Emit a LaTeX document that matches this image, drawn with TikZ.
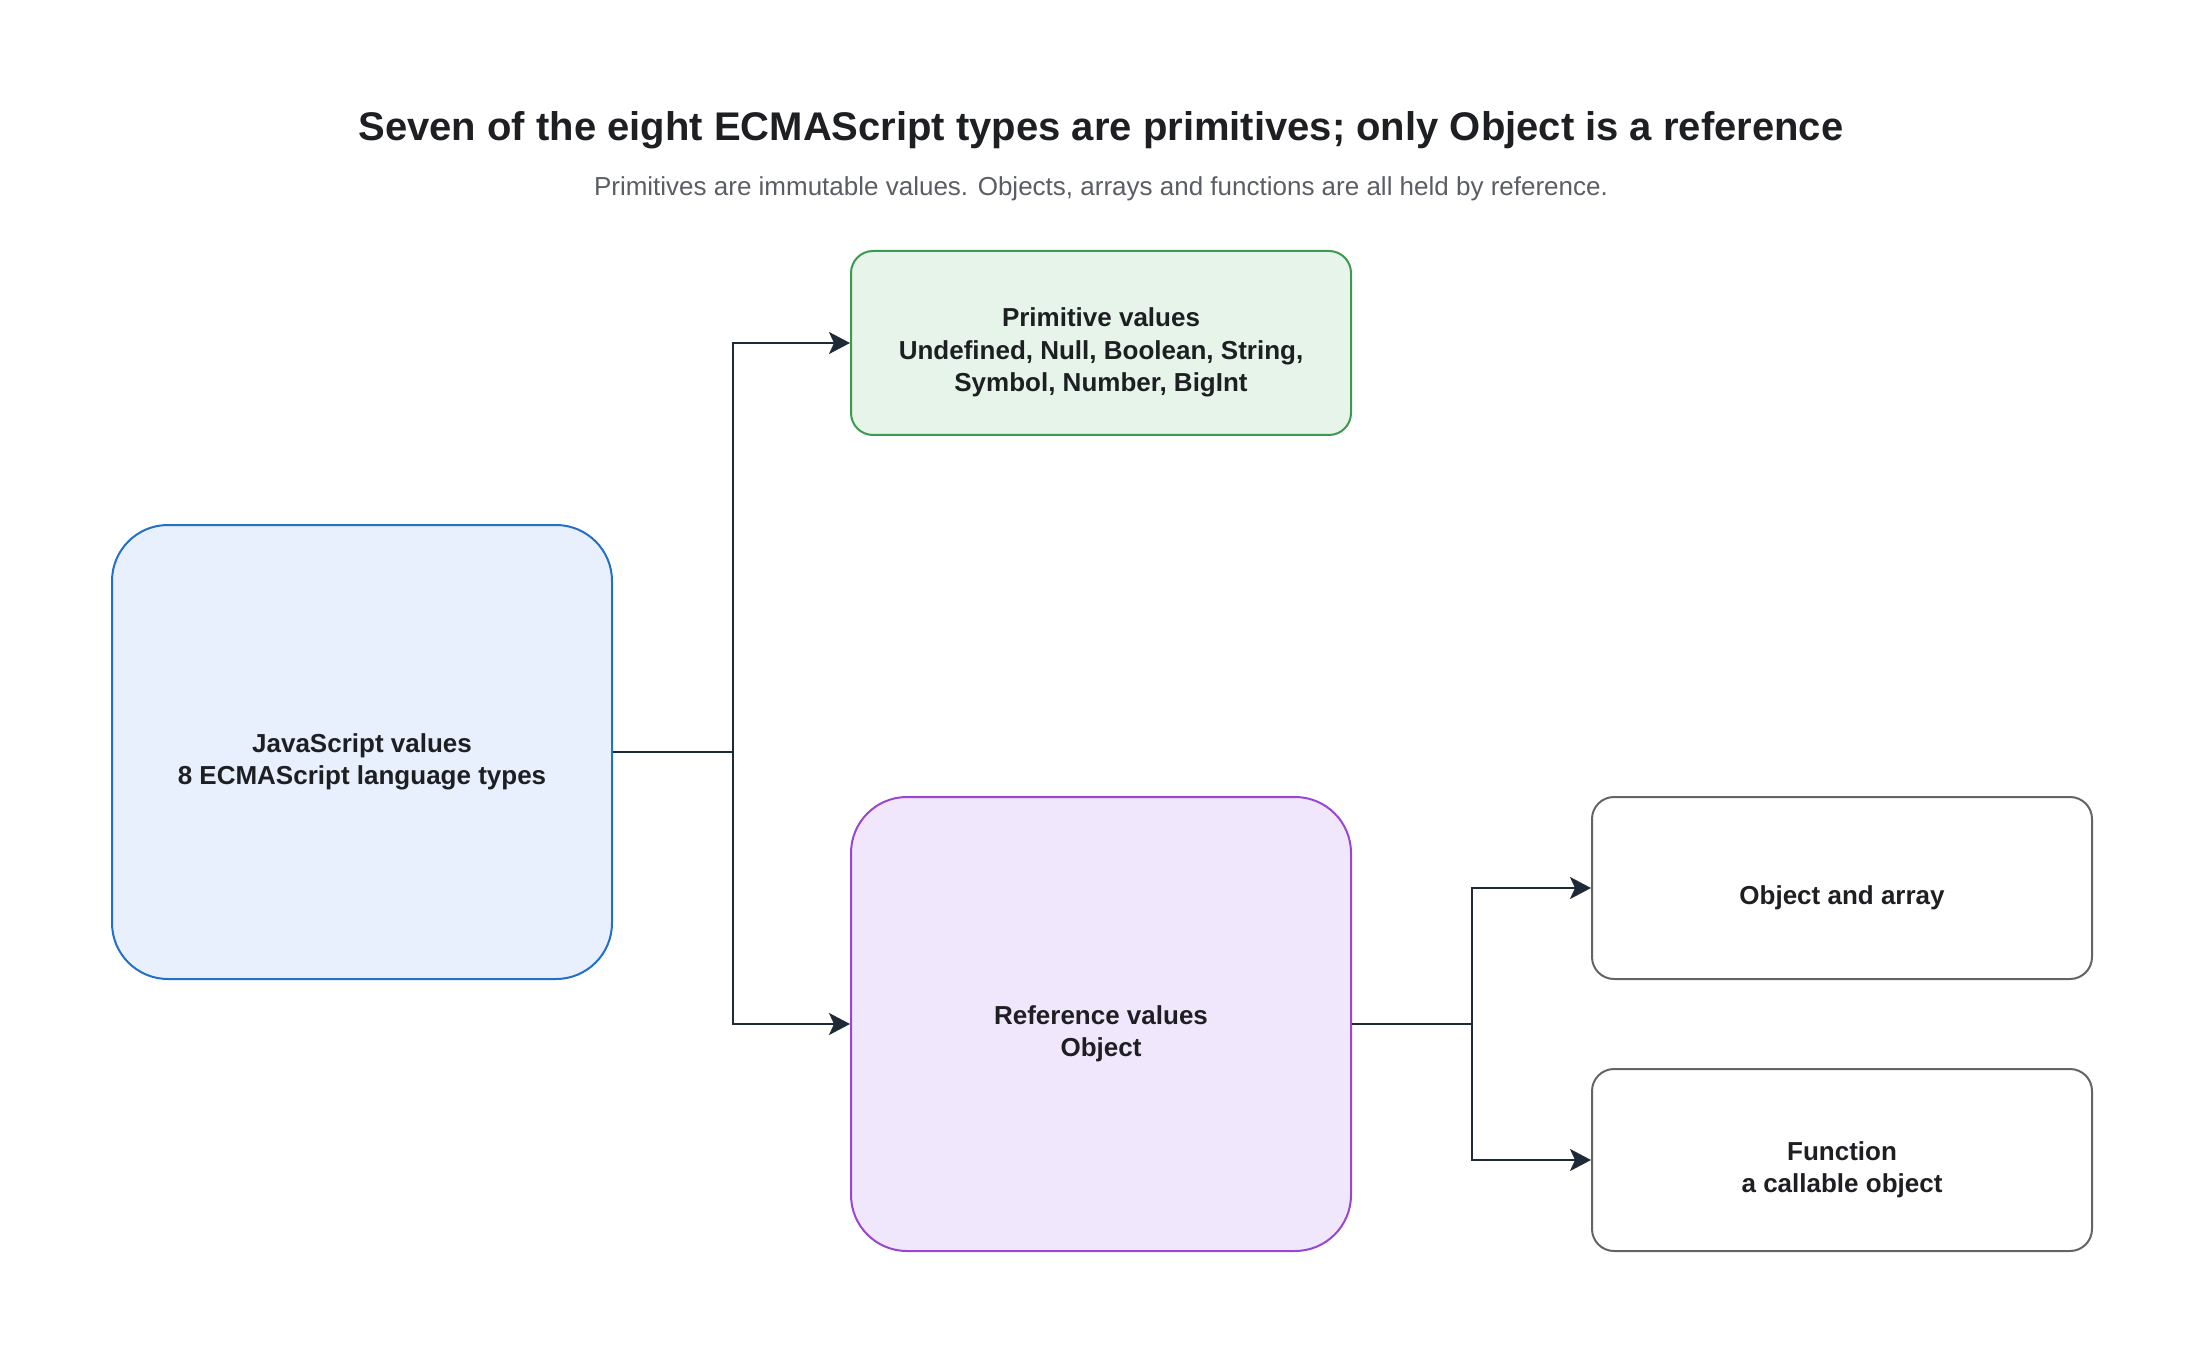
\documentclass[tikz,border=0pt]{standalone}
\usepackage{fontspec}
\setmainfont{Liberation Sans}
\definecolor{jsInk}{HTML}{1D1F23}
\definecolor{jsGrey}{HTML}{5A5D63}
\definecolor{jsArrow}{HTML}{1F2A38}
\definecolor{jsBlue}{HTML}{2370C8}
\definecolor{jsBlueFill}{HTML}{E8F0FD}
\definecolor{jsGreen}{HTML}{3C9A50}
\definecolor{jsGreenFill}{HTML}{E6F4EA}
\definecolor{jsPurple}{HTML}{9A46D4}
\definecolor{jsPurpleFill}{HTML}{F1E7FC}
\definecolor{jsBoxGrey}{HTML}{646464}
\usetikzlibrary{arrows.meta, positioning}
\newcommand{\boxlift}{\rule{0pt}{19pt}}
\tikzset{
    type box/.style={rectangle, line width=1pt, text=jsInk, align=center, font=\bfseries\fontsize{13}{16.2}\selectfont, minimum width=250pt},
    root node/.style={type box, draw=jsBlue, fill=jsBlueFill, rounded corners=28pt, minimum height=227pt},
    prim node/.style={type box, draw=jsGreen, fill=jsGreenFill, rounded corners=11pt, minimum height=92pt},
    ref node/.style={type box, draw=jsPurple, fill=jsPurpleFill, rounded corners=28pt, minimum height=227pt},
    kind node/.style={type box, draw=jsBoxGrey, fill=white, rounded corners=11pt, minimum height=91pt},
    arrow style/.style={-{Stealth[length=10.5pt, width=11pt, inset=2.5pt]}, line width=1pt, jsArrow},
}

\begin{document}
\begin{tikzpicture}[x=0.5pt, y=-0.5pt]
    \useasboundingbox (0,0) rectangle (2203,1363);

    % heading
    \node[font=\bfseries\fontsize{20}{24}\selectfont, text=jsInk] (title) at (1101,130)
        {Seven of the eight ECMAScript types are primitives; only Object is a reference};
    \node[font=\fontsize{13}{16}\selectfont, text=jsGrey] (subtitle) at (1101,189)
        {Primitives are immutable values. Objects, arrays and functions are all held by reference.};

    % boxes
    \node[root node] (values) at (362,752) {\boxlift JavaScript values\\8 ECMAScript language types};
    \node[prim node] (primitive) at (1101,343) {\boxlift Primitive values\\Undefined, Null, Boolean, String,\\Symbol, Number, BigInt};
    \node[ref node] (reference) at (1101,1024) {\boxlift Reference values\\Object};
    \node[kind node] (objarray) at (1842,888) {\boxlift Object and array};
    \node[kind node] (function) at (1842,1160) {\boxlift Function\\a callable object};

    % connectors
    \draw[arrow style] (values.east) -- ++(120,0) |- (primitive.west);
    \draw[arrow style] (values.east) -- ++(120,0) |- (reference.west);
    \draw[arrow style] (reference.east) -- ++(120,0) |- (objarray.west);
    \draw[arrow style] (reference.east) -- ++(120,0) |- (function.west);
\end{tikzpicture}
\end{document}
